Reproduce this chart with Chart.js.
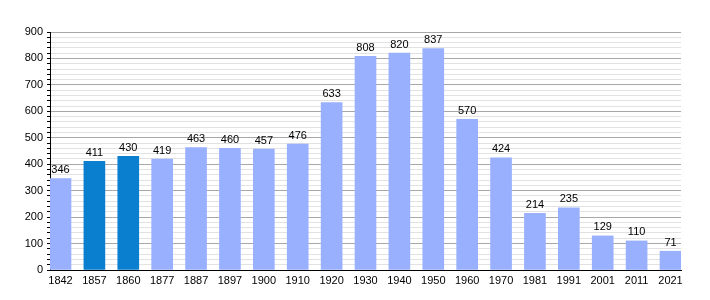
<!DOCTYPE html>
<html lang="fr">
<head>
  <meta charset="UTF-8" />
  <title>Évolution démographique</title>
  <script src="https://cdn.jsdelivr.net/npm/chart.js"></script>
  <style>
    html, body { margin: 0; padding: 0; background: #fff; }
    #wrap { width: 710px; height: 300px; }
  </style>
</head>
<body>
  <div id="wrap"><canvas id="graphique" width="710" height="300"></canvas></div>

  <script>
    const annees = ['1842','1857','1860','1877','1887','1897','1900','1910','1920','1930','1940','1950','1960','1970','1981','1991','2001','2011','2021'];
    const habitants = [346,411,430,419,463,460,457,476,633,808,820,837,570,424,214,235,129,110,71];
    const anneesFoncees = ['1857','1860'];

    const couleurClaire = '#99b0ff';
    const couleurFoncee = '#0a7fcf';

    // étiquettes de valeur au-dessus des barres
    const etiquettes = {
      id: 'etiquettes',
      afterDatasetsDraw(chart) {
        const ctx = chart.ctx;
        const meta = chart.getDatasetMeta(0);
        ctx.save();
        ctx.font = '11px "Liberation Sans", Arial, sans-serif';
        ctx.fillStyle = '#000';
        ctx.textAlign = 'center';
        ctx.textBaseline = 'bottom';
        meta.data.forEach((bar, i) => {
          ctx.fillText(String(habitants[i]), bar.x, bar.y - 3);
        });
        ctx.restore();
      }
    };

    const ctx = document.getElementById('graphique').getContext('2d');

    new Chart(ctx, {
      type: 'bar',
      data: {
        datasets: [{
          data: habitants.map((v, i) => ({ x: i, y: v })),
          backgroundColor: annees.map(a => anneesFoncees.includes(a) ? couleurFoncee : couleurClaire),
          barThickness: 21
        }]
      },
      options: {
        responsive: false,
        animation: false,
        layout: { padding: { top: 32, right: 29, left: 0, bottom: 0 } },
        plugins: { legend: { display: false }, tooltip: { enabled: false } },
        scales: {
          x: {
            type: 'linear',
            offset: false,
            min: -0.31,
            max: 18.31,
            afterBuildTicks(axis) {
              axis.ticks = annees.map((a, i) => ({ value: i }));
            },
            afterFit(axis) { axis.height = 30; },
            ticks: {
              autoSkip: false,
              maxRotation: 0,
              color: '#000',
              padding: 4,
              font: { family: '"Liberation Sans", Arial, sans-serif', size: 11 },
              callback: (v) => annees[v]
            },
            grid: { display: false, drawTicks: false },
            border: { color: '#000', width: 1 }
          },
          y: {
            min: 0,
            max: 900,
            afterFit(axis) { axis.width = 50; },
            ticks: {
              stepSize: 20,
              autoSkip: false,
              color: '#000',
              padding: 4,
              font: { family: '"Liberation Sans", Arial, sans-serif', size: 11 },
              callback: (v) => v % 100 === 0 ? v : ''
            },
            grid: {
              color: (c) => c.tick && c.tick.value % 100 === 0 ? '#a8a8a8' : '#e2e2e2',
              tickColor: '#000',
              tickLength: 3
            },
            border: { color: '#000', width: 1 }
          }
        }
      },
      plugins: [etiquettes]
    });
  </script>
</body>
</html>
